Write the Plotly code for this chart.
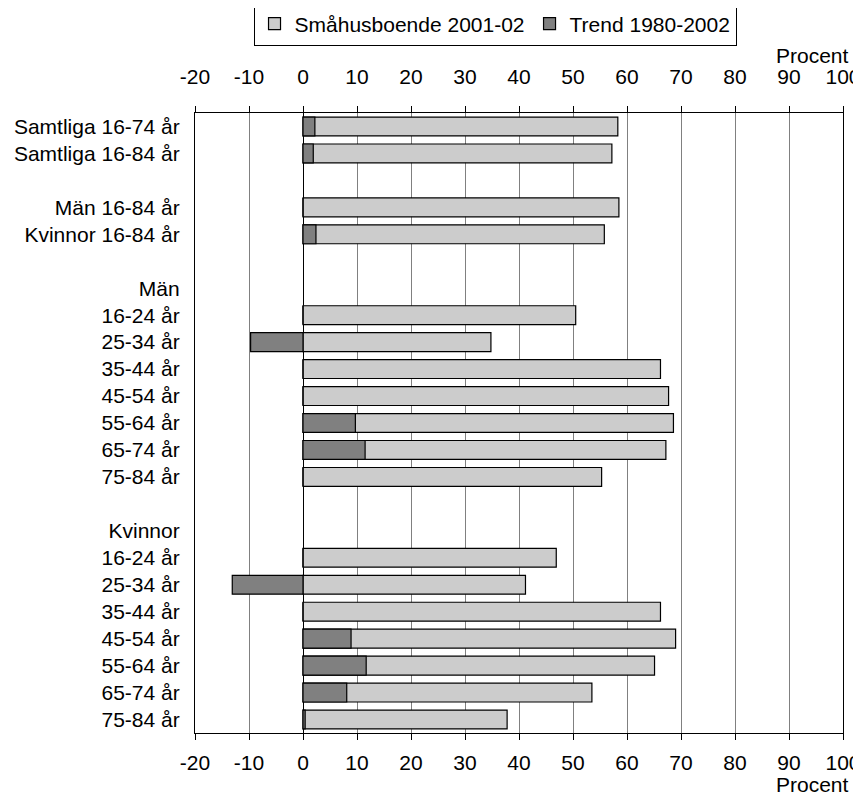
import plotly.graph_objects as go

# Rows from top to bottom ("" = empty spacer row)
labels = ["Samtliga 16-74 år", "Samtliga 16-84 år", "",
          "Män 16-84 år", "Kvinnor 16-84 år", "",
          "Män", "16-24 år", "25-34 år", "35-44 år", "45-54 år", "55-64 år", "65-74 år", "75-84 år", "",
          "Kvinnor", "16-24 år", "25-34 år", "35-44 år", "45-54 år", "55-64 år", "65-74 år", "75-84 år"]

smahus = [58.3, 57.2, None,
          58.5, 55.8, None,
          None, 50.5, 34.8, 66.2, 67.7, 68.6, 67.2, 55.3, None,
          None, 46.9, 41.2, 66.2, 69.0, 65.1, 53.5, 37.8]

trend = [2.2, 1.9, None,
         0.0, 2.4, None,
         None, 0.0, -9.7, 0.0, 0.0, 9.7, 11.5, 0.0, None,
         None, 0.0, -13.1, 0.0, 8.9, 11.7, 8.1, 0.4]

x_ticks = list(range(-20, 101, 10))
x_tick_text = [str(v) for v in x_ticks]  # plain hyphen for negatives

rows = list(range(len(labels)))
font = dict(family="Liberation Sans, Arial, sans-serif", size=21, color="black")

fig = go.Figure()
fig.add_trace(go.Bar(y=rows, x=smahus, orientation="h", name="Småhusboende 2001-02",
                     width=0.7, marker=dict(color="#cccccc", line=dict(color="black", width=1.2))))
fig.add_trace(go.Bar(y=rows, x=trend, orientation="h", name="Trend 1980-2002",
                     width=0.7, marker=dict(color="#808080", line=dict(color="black", width=1.2))))

axis_common = dict(range=[-20, 100], tickvals=x_ticks, ticktext=x_tick_text, ticks="outside",
                   ticklen=6, tickcolor="black", showline=True, linecolor="black",
                   linewidth=1.2, automargin=False)

# page body has an 8px margin, so the figure is sized 8px smaller
fig.update_layout(
    width=853, height=788,
    margin=dict(l=187, r=18, t=105, b=63, autoexpand=False),
    paper_bgcolor="white", plot_bgcolor="white",
    font=font,
    barmode="overlay",
    showlegend=True,
    legend=dict(orientation="h", x=0.463, xanchor="center", y=1.1435, yanchor="middle",
                bordercolor="black", borderwidth=1, font=font, traceorder="normal"),
    xaxis=dict(**axis_common, showgrid=True, gridcolor="#808080", gridwidth=1,
               zeroline=True, zerolinecolor="black", zerolinewidth=1.2, mirror=True,
               ticklabelstandoff=5),
    xaxis2=dict(**axis_common, overlaying="x", side="top", showgrid=False, zeroline=False,
                ticklabelstandoff=14),
    yaxis=dict(range=[len(labels) - 0.5, -0.5], tickvals=rows, ticktext=labels,
               showgrid=False, zeroline=False, showline=True, linecolor="black",
               linewidth=1.2, mirror=True, ticks="", ticklabelstandoff=10, automargin=False),
)

# invisible trace so the top axis is drawn
fig.add_trace(go.Scatter(x=[-20, 100], y=[0, 0], xaxis="x2", mode="markers",
                         marker=dict(opacity=0), showlegend=False, hoverinfo="skip"))

fig.add_annotation(text="Procent", xref="paper", yref="paper", x=1.0123, y=1.0935,
                   xanchor="right", yanchor="middle", showarrow=False, font=font)
fig.add_annotation(text="Procent", xref="paper", yref="paper", x=1.0123, y=-0.083,
                   xanchor="right", yanchor="middle", showarrow=False, font=font)

fig.write_html("out.html")
